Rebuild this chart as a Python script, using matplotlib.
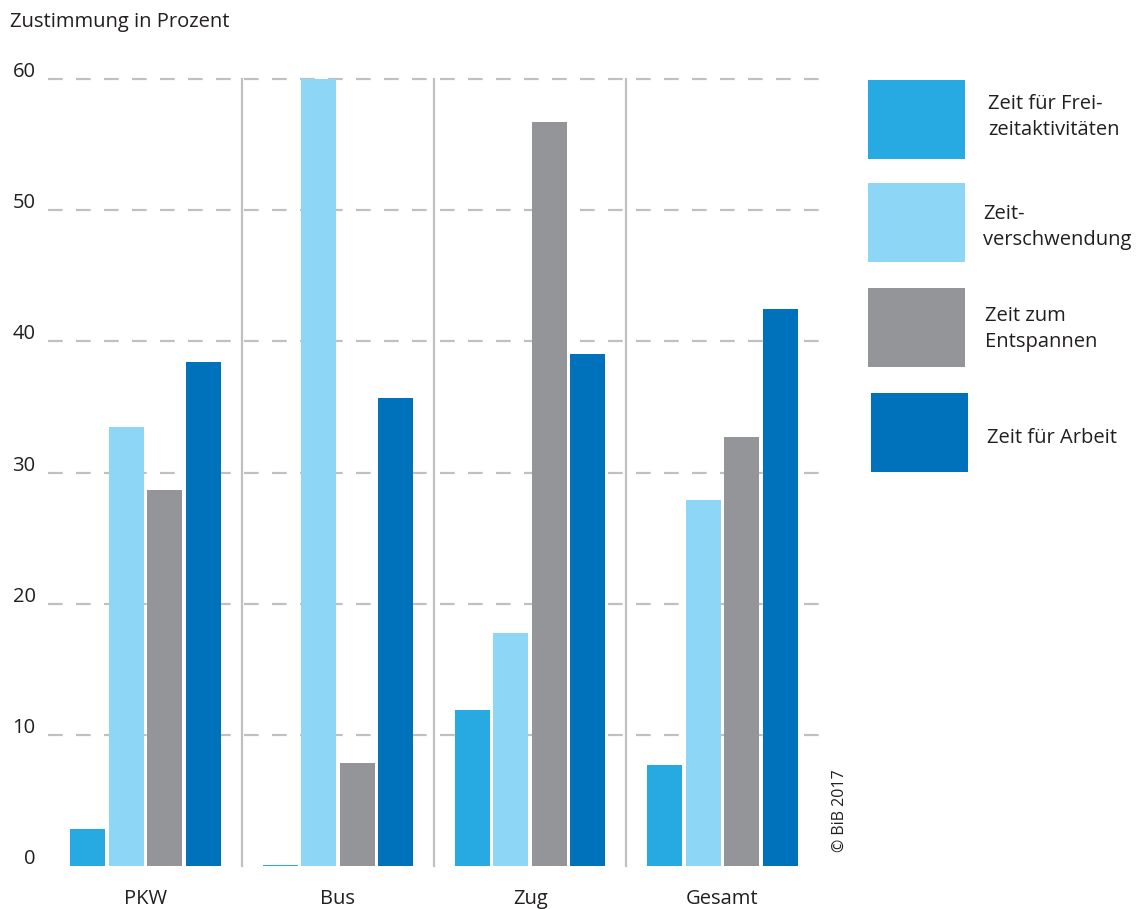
import matplotlib
matplotlib.use("Agg")
import matplotlib.pyplot as plt
from matplotlib.patches import Rectangle
import numpy as np

plt.rcParams['font.family'] = ['Open Sans', 'DejaVu Sans']

categories = ["PKW", "Bus", "Zug", "Gesamt"]
series_labels = ["Zeit für Frei-\nzeitaktivitäten", "Zeit-\nverschwendung",
                 "Zeit zum\nEntspannen", "Zeit für Arbeit"]
freizeit = [2.8, 0.1, 11.9, 7.7]
verschwendung = [33.5, 60.0, 17.8, 27.9]
entspannen = [28.7, 7.85, 56.7, 32.7]
arbeit = [38.4, 35.7, 39.0, 42.5]
y_ticks = [0, 10, 20, 30, 40, 50, 60]

series = [freizeit, verschwendung, entspannen, arbeit]
colors = ["#27a9e1", "#8dd6f6", "#939598", "#0072bb"]
text_color = "#231f20"
grid_color = "#c0c0c2"
fs = 14.5

W, H = 1138, 909
fig = plt.figure(figsize=(W / 100, H / 100), dpi=100)

# axes spanning the plotting area (pixel-based placement)
left_px, right_px, top_px, bottom_px = 48, 820, 79, 866
ax = fig.add_axes([left_px / W, 1 - bottom_px / H,
                   (right_px - left_px) / W, (bottom_px - top_px) / H])
ax.set_xlim(-0.507, 3.507)
ax.set_ylim(0, 60)
ax.axis("off")

# dashed horizontal gridlines
for t in y_ticks[1:]:
    ax.plot([-0.507, 3.507], [t, t], color=grid_color, lw=1.6,
            ls=(0, (6.6, 6.0)), zorder=0, clip_on=False)

# vertical separators between groups
for xs in [0.5, 1.5, 2.5]:
    ax.plot([xs, xs], [0, 60], color=grid_color, lw=1.6, zorder=0, clip_on=False)

x = np.arange(len(categories))
step = 0.2
width = 0.182
for i, (vals, col) in enumerate(zip(series, colors)):
    ax.bar(x + (i - 1.5) * step, vals, width=width, color=col,
           linewidth=0, zorder=2, clip_on=False)

# y tick labels
for t in y_ticks:
    ax.annotate(str(t), xy=(-0.507, t), xycoords="data",
                xytext=(-9, 5), textcoords="offset points",
                ha="right", va="center", fontsize=fs, color=text_color)

# category labels
for xi, c in zip(x, categories):
    ax.annotate(c, xy=(xi, 0), xycoords="data", xytext=(0, -24),
                textcoords="offset points", ha="center", va="center",
                fontsize=fs, color=text_color)

fig.text(10 / W, 1 - 22 / H, "Zustimmung in Prozent", ha="left", va="center",
         fontsize=fs, color=text_color)

# legend built from patches and text
legend_boxes = [(868, 80), (868, 183), (868, 288), (871, 393)]
legend_text = [(988, 117), (983, 227), (985, 329), (987, 438)]
for (bx, by), (tx, ty), col, lab in zip(legend_boxes, legend_text, colors, series_labels):
    fig.patches.append(Rectangle((bx / W, 1 - (by + 79) / H), 97 / W, 79 / H,
                                 transform=fig.transFigure, facecolor=col,
                                 edgecolor="none"))
    fig.text(tx / W, 1 - ty / H, lab, ha="left", va="center", fontsize=fs,
             color=text_color, linespacing=1.35)

fig.text(840 / W, 1 - 811 / H, "© BiB 2017", rotation=90, ha="center",
         va="center", fontsize=11.5, color=text_color)

fig.savefig("out.png", dpi=100, facecolor="white")
